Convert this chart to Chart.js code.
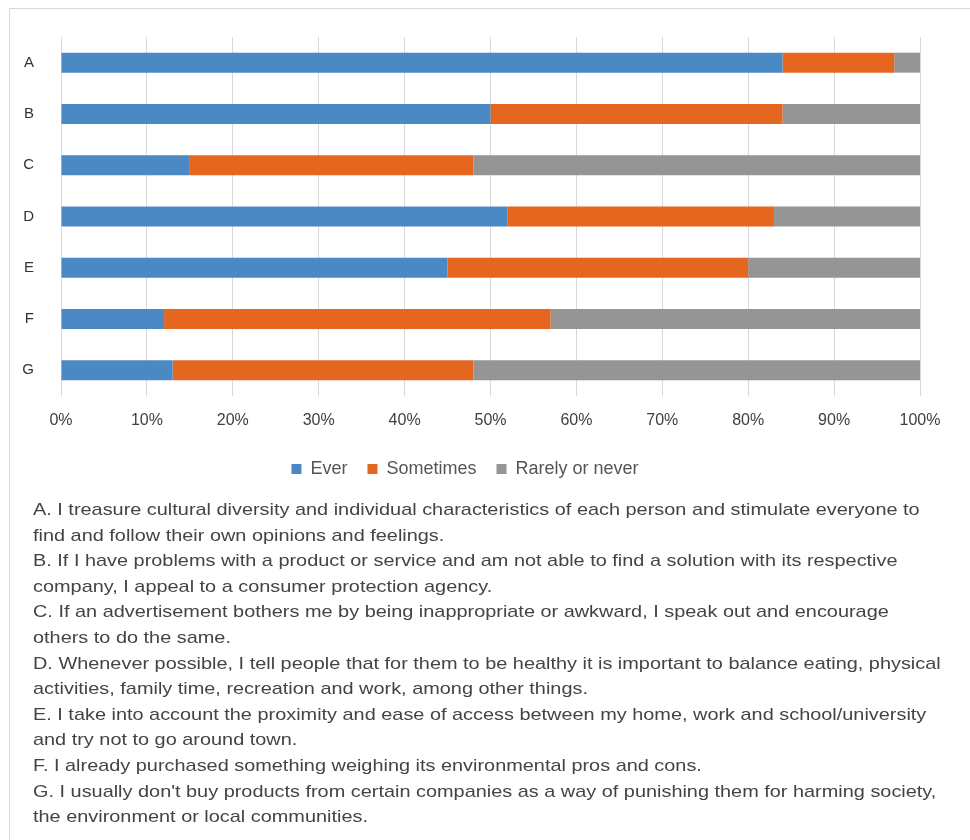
<!DOCTYPE html>
<html>
<head>
<meta charset="utf-8">
<title>Consumer attitudes</title>
<script src="https://cdn.jsdelivr.net/npm/chart.js@4/dist/chart.umd.min.js"></script>
<style>
    body { margin: 0; background: #fff; }
    .frame {
        position: absolute; left: 9px; top: 8px; width: 961px; height: 832px;
        border-left: 1px solid #d9d9d9; border-top: 1px solid #d9d9d9;
    }
    #chartWrap { position: absolute; left: 0; top: 0; width: 950px; height: 500px; }
    .notes {
        position: absolute; left: 23px; top: 488px;
        font-family: "Liberation Sans", Arial, sans-serif; font-size: 17px;
        line-height: 25.6px; color: #444; white-space: nowrap;
        transform: scaleX(1.17); transform-origin: 0 0;
    }
</style>
</head>
<body>
<div class="frame">
    <div id="chartWrap"><canvas id="surveyChart"></canvas></div>
    <div class="notes" id="notes"></div>
</div>
<script>
// statements A-G, share of answers (%)
const statements = ['A', 'B', 'C', 'D', 'E', 'F', 'G'];
const ever = [84, 50, 15, 52, 45, 12, 13];
const sometimes = [13, 34, 33, 31, 35, 45, 35];
const rarelyNever = [3, 16, 52, 17, 20, 43, 52];
const xTicks = [0, 10, 20, 30, 40, 50, 60, 70, 80, 90, 100];

const noteLines = [
    'A. I treasure cultural diversity and individual characteristics of each person and stimulate everyone to',
    'find and follow their own opinions and feelings.',
    'B. If I have problems with a product or service and am not able to find a solution with its respective',
    'company, I appeal to a consumer protection agency.',
    'C. If an advertisement bothers me by being inappropriate or awkward, I speak out and encourage',
    'others to do the same.',
    'D. Whenever possible, I tell people that for them to be healthy it is important to balance eating, physical',
    'activities, family time, recreation and work, among other things.',
    'E. I take into account the proximity and ease of access between my home, work and school/university',
    'and try not to go around town.',
    'F. I already purchased something weighing its environmental pros and cons.',
    'G. I usually don\'t buy products from certain companies as a way of punishing them for harming society,',
    'the environment or local communities.'
];

document.getElementById('notes').innerHTML = noteLines
    .map(l => l.replace(/&/g, '&amp;').replace(/</g, '&lt;'))
    .join('<br>');

const tickFont = { family: '"Liberation Sans", Arial, sans-serif', size: 16 };

const surveyChart = new Chart(document.getElementById('surveyChart').getContext('2d'), {
    type: 'bar',
    data: {
        labels: statements,
        datasets: [
            { label: 'Ever', data: ever, backgroundColor: '#4a89c3' },
            { label: 'Sometimes', data: sometimes, backgroundColor: '#e5671f' },
            { label: 'Rarely or never', data: rarelyNever, backgroundColor: '#959595' },
        ],
    },
    options: {
        indexAxis: 'y',
        responsive: true,
        maintainAspectRatio: false,
        animation: false,
        datasets: { bar: { barPercentage: 0.39, categoryPercentage: 1 } },
        layout: { padding: { top: 25, right: 40, bottom: 21, left: 0 } },
        plugins: {
            legend: {
                position: 'bottom',
                labels: {
                    boxWidth: 10, boxHeight: 10, padding: 20,
                    color: '#555',
                    font: { family: '"Liberation Sans", Arial, sans-serif', size: 18 },
                },
            },
            tooltip: { callbacks: { label: ctx => `${ctx.dataset.label}: ${ctx.raw}%` } },
        },
        scales: {
            x: {
                stacked: true,
                min: 0,
                max: 100,
                afterBuildTicks: scale => { scale.ticks = xTicks.map(v => ({ value: v })); },
                afterFit: scale => { scale.height = 44; },
                grid: { color: '#d9d9d9', drawTicks: false },
                border: { display: false },
                ticks: { color: '#404040', font: tickFont, padding: 15, callback: v => v + '%' },
            },
            y: {
                stacked: true,
                afterFit: scale => { scale.width = 51; },
                grid: { display: false },
                border: { display: false },
                ticks: { color: '#333', font: { ...tickFont, size: 15 }, padding: 19 },
            },
        },
    },
});
</script>
</body>
</html>
